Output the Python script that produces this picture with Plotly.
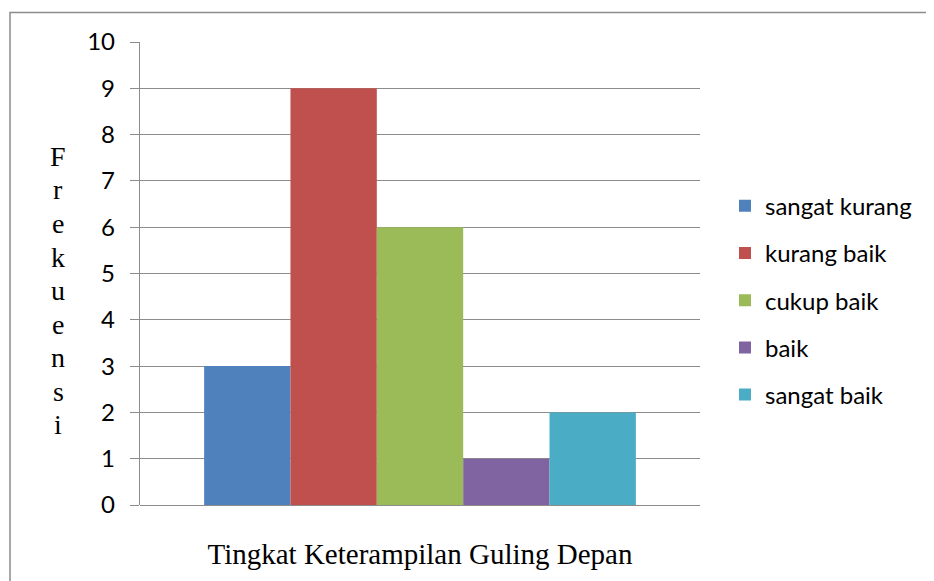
import plotly.graph_objects as go

categories = ["sangat kurang", "kurang baik", "cukup baik", "baik", "sangat baik"]
values = [3, 9, 6, 1, 2]
colors = ["#4F81BD", "#C0504D", "#9BBB59", "#8064A2", "#4BACC6"]
y_ticks = list(range(0, 11))
x_title = "Tingkat Keterampilan Guling Depan"
y_title = "Frekuensi"

# figure is placed at an 8px page offset; coordinates below are figure pixels
W, H = 926, 573
L, R, T, B = 132, 234, 33.5, 76
pw, ph = W - L - R, H - T - B

fig = go.Figure()
for i, (name, v, c) in enumerate(zip(categories, values, colors)):
    fig.add_trace(go.Bar(x=[""], y=[v], name=name, marker=dict(color=c, line=dict(width=0)),
                         legendgroup=f"g{i}"))

grid = "#8c8c8c"
fig.update_layout(
    width=W, height=H, autosize=False,
    margin=dict(l=L, r=R, t=T, b=B, pad=0),
    paper_bgcolor="white", plot_bgcolor="white",
    barmode="group", bargap=0.229, bargroupgap=0,
    font=dict(family="Lato, Open Sans, sans-serif", color="black"),
    showlegend=True,
    legend=dict(x=(717 - L) / pw, xanchor="left", y=1 - (292 - T) / ph, yanchor="middle",
                font=dict(size=24, family="Lato, Open Sans, sans-serif", color="black"),
                tracegroupgap=13, bgcolor="rgba(0,0,0,0)", borderwidth=0),
    xaxis=dict(type="category", range=[-0.5, 0.5], showticklabels=False, ticks="",
               showgrid=False, showline=False, zeroline=False,
               title=dict(text=x_title, standoff=38,
                          font=dict(family="Liberation Serif, Times New Roman, serif", size=29, color="black"))),
    yaxis=dict(range=[0, 10], tickvals=y_ticks, showgrid=True, gridcolor=grid, gridwidth=1.4,
               showline=True, linecolor=grid, linewidth=1.4, zeroline=True, zerolinecolor=grid,
               zerolinewidth=1.4, ticks="outside", ticklen=9, tickcolor=grid, tickwidth=1.4,
               ticklabelstandoff=10,
               tickfont=dict(size=24, family="Lato, Open Sans, sans-serif", color="black")),
)

# vertical stacked y title letters
for k, ch in enumerate(y_title):
    yc = 148 + k * 33.6
    fig.add_annotation(text=ch, xref="paper", yref="paper", x=(50 - L) / pw, y=1 - (yc - T) / ph,
                       xanchor="center", yanchor="middle", showarrow=False,
                       font=dict(family="Liberation Serif, Times New Roman, serif", size=28, color="black"))

# outer chart border
fig.add_shape(type="rect", xref="paper", yref="paper",
              x0=(2 - L) / pw, x1=(960 - L) / pw, y0=1 - (600 - T) / ph, y1=1 + (T - 4) / ph,
              line=dict(color="#8c8c8c", width=1.5), fillcolor="rgba(0,0,0,0)", layer="below")

fig.write_html("out.html")
